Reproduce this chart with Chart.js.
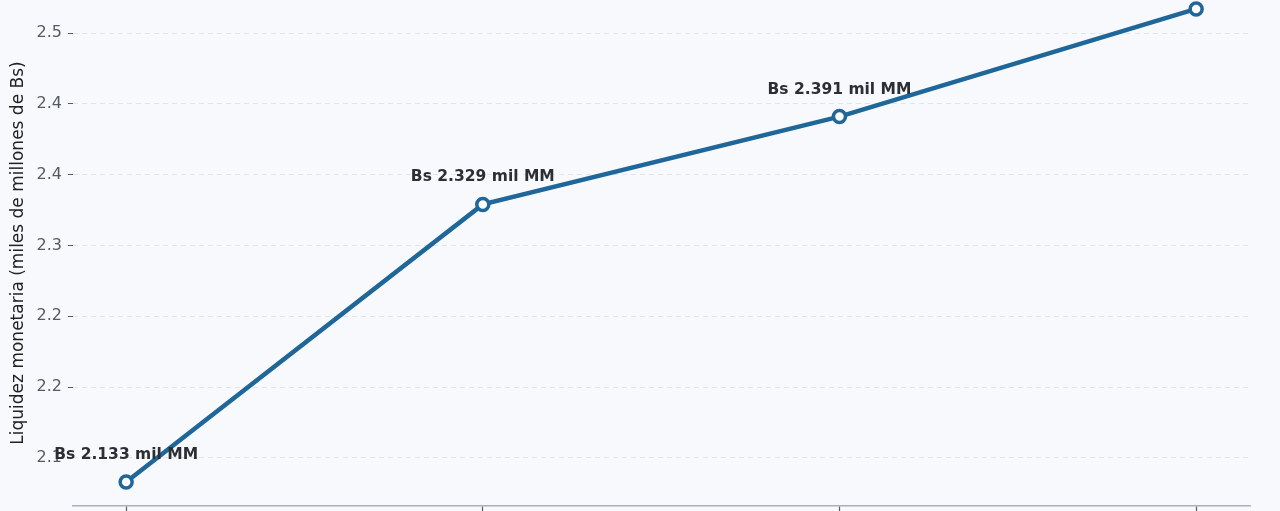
<!DOCTYPE html>
<html>
<head>
<meta charset="utf-8">
<script src="https://cdn.jsdelivr.net/npm/chart.js@4.4.0/dist/chart.umd.min.js"></script>
<style>
  html, body { margin: 0; padding: 0; background: #f7f9fc; }
  #wrap { width: 1280px; height: 511px; position: relative; }
</style>
</head>
<body>
<div id="wrap"><canvas id="myChart"></canvas></div>
<script>
// data
const positions = [0, 1, 2, 3];
const values = [2.133, 2.329, 2.391, 2.467];
const pointLabels = ['Bs 2.133 mil MM', 'Bs 2.329 mil MM', 'Bs 2.391 mil MM', 'Bs 2.467 mil MM'];
const yTicks = [2.15, 2.20, 2.25, 2.30, 2.35, 2.40, 2.45];
const yTickLabels = ['2.1', '2.2', '2.2', '2.3', '2.4', '2.4', '2.5'];

const lineColor = '#1f6699';

// labels above every point
const valueLabels = {
  id: 'valueLabels',
  afterDatasetsDraw(chart) {
    const ctx = chart.ctx;
    const meta = chart.getDatasetMeta(0);
    ctx.save();
    ctx.font = 'bold 15.5px "DejaVu Sans"';
    ctx.fillStyle = '#2b2f33';
    ctx.textAlign = 'center';
    ctx.textBaseline = 'middle';
    meta.data.forEach(function(pt, i) {
      ctx.fillText(pointLabels[i], pt.x, pt.y - 27);
    });
    ctx.restore();
  }
};

const data = {
  datasets: [{
    data: positions.map(function(p, i) { return { x: p, y: values[i] }; }),
    borderColor: lineColor,
    borderWidth: 4.5,
    pointRadius: 6,
    pointBorderWidth: 3.5,
    pointBackgroundColor: '#ffffff',
    pointBorderColor: lineColor,
    tension: 0,
    clip: false
  }]
};

const config = {
  type: 'line',
  data: data,
  options: {
    responsive: true,
    maintainAspectRatio: false,
    animation: false,
    layout: { autoPadding: false, padding: { top: 0, right: 30, bottom: 0, left: 0 } },
    plugins: {
      legend: { display: false },
      title: { display: false },
      tooltip: { enabled: false }
    },
    scales: {
      x: {
        type: 'linear',
        min: -0.149,
        max: 3.151,
        afterBuildTicks(scale) {
          scale.ticks = positions.map(function(v) { return { value: v }; });
        },
        afterFit(scale) {
          scale.paddingLeft = 0;
          scale.paddingRight = 0;
          scale.height = 5;
        },
        ticks: { display: false },
        grid: {
          drawOnChartArea: false,
          drawTicks: true,
          tickLength: 6,
          tickColor: '#555b60',
          tickWidth: 1.2
        },
        border: { display: true, color: '#a9b0b7', width: 1.5 }
      },
      y: {
        min: 2.1161,
        max: 2.4733,
        afterBuildTicks(scale) {
          scale.ticks = yTicks.map(function(v) { return { value: v }; });
        },
        afterFit(scale) {
          scale.paddingTop = 0;
          scale.paddingBottom = 0;
          scale.width = 73;
        },
        ticks: {
          color: '#555b60',
          font: { family: 'DejaVu Sans', size: 16, lineHeight: 0.01 },
          padding: 6,
          callback: function(v, i) { return yTickLabels[i]; }
        },
        grid: {
          color: '#e1e5ea',
          lineWidth: 1,
          tickLength: 5,
          tickColor: '#555b60',
          tickBorderDash: []
        },
        border: { display: false, dash: [5, 4] },
        title: {
          display: true,
          text: 'Liquidez monetaria (miles de millones de Bs)',
          color: '#222222',
          font: { family: 'DejaVu Sans', size: 17 },
          padding: { top: 8, bottom: 2 }
        }
      }
    }
  },
  plugins: [valueLabels]
};

const myChart = new Chart(document.getElementById('myChart'), config);
</script>
</body>
</html>
